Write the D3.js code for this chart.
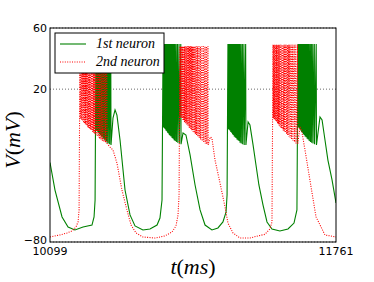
<!DOCTYPE html>
<html>
<head>
<meta charset="utf-8">
<script src="https://cdn.jsdelivr.net/npm/d3@7"></script>
<style>
body { margin: 0; background: #fff; }
</style>
</head>
<body>
<svg id="chart" width="374" height="282"></svg>
<script>
// time window and ticks
var tDomain = [10099, 11761];
var vDomain = [-80, 60];
var xTicks = [10099, 11761];
var yTicks = [-80, 20, 60];
var seriesNames = ['1st neuron', '2nd neuron'];

// 1st neuron: slow parts between bursts, [t, V]
var n1Rest = [
	[[10099, -28], [10128, -46], [10169, -63.6], [10204, -70.2], [10244, -72.1], [10291, -70.2], [10343, -68.9], [10355, -63.6], [10361, -52.5]],
	[[10465, 1], [10477, 6.4], [10488, 3], [10506, -13.3], [10535, -46], [10564, -62.3], [10593, -69.5], [10639, -72.1], [10680, -71.5], [10721, -68.9], [10738, -64.3], [10750, -52.5]],
	[[10872, -8.7], [10889, -10], [10913, -23], [10942, -42.7], [10971, -59], [11000, -68.9], [11040, -72.1], [11075, -70.8], [11104, -66.9], [11122, -60.4], [11128, -49.3]],
	[[11250, -1.5], [11261, -3.5], [11279, -16.5], [11296, -29.6], [11313, -42.7], [11337, -55.8], [11360, -66.9], [11389, -71.5], [11435, -72.8], [11482, -71.5], [11517, -67.6], [11534, -59]],
	[[11668, 1.8], [11680, -0.2], [11697, -13.3], [11714, -26.4], [11738, -39.4], [11761, -54.5]]
];
// 1st neuron bursts: [spike time, trough after spike]
var n1Bursts = [
	[[10366, -7], [10371, -7.5], [10376, -8], [10381, -9], [10386, -9.5], [10391, -10], [10396, -11], [10401, -11.5], [10406, -12], [10411, -13], [10417, -13.5], [10423, -14], [10429, -15], [10436, -15.5], [10444, -16], [10452, -16.5]],
	[[10756, -5], [10761, -5.5], [10766, -6], [10771, -7], [10776, -7.5], [10781, -8.5], [10786, -9], [10791, -10], [10796, -10.5], [10801, -11], [10807, -12], [10813, -12.5], [10819, -13.5], [10825, -14], [10832, -14.5], [10840, -15], [10849, -15.5], [10859, -16]],
	[[11133, -6], [11138, -6.5], [11143, -7], [11148, -8], [11153, -8.5], [11158, -9.5], [11163, -10], [11168, -11], [11173, -11.5], [11178, -12], [11184, -13], [11190, -13.5], [11196, -14], [11202, -15], [11209, -15.5], [11217, -16], [11226, -16.5], [11236, -16.5]],
	[[11540, -5], [11545, -5.5], [11550, -6], [11555, -7], [11560, -8], [11565, -8.5], [11570, -9.5], [11575, -10], [11580, -11], [11586, -11.5], [11592, -12.5], [11598, -13], [11604, -14], [11611, -14.5], [11618, -15], [11626, -15.5], [11635, -16], [11646, -16.5]]
];
var n1Peak = [49, 49.5, 49.5, 49.5];

// 2nd neuron
var n2Rest = [
	[[10099, -76.7], [10157, -75.4], [10198, -74.1], [10227, -72.8], [10250, -70.2], [10262, -66.9], [10268, -59]],
	[[10448, -17.9], [10465, -19.8], [10488, -28.3], [10517, -46], [10546, -59], [10570, -68.9], [10599, -74.1], [10639, -76.7], [10709, -77.4], [10767, -76], [10808, -73.5], [10831, -69.5], [10843, -62.3], [10849, -49.3]],
	[[11030, -11.3], [11040, -12], [11058, -26.4], [11087, -41.4], [11116, -57], [11133, -67.6], [11162, -74], [11203, -77.4], [11261, -77.4], [11308, -76], [11348, -75], [11377, -71.5], [11389, -66.9]],
	[[11552, -4.8], [11563, -8], [11587, -24], [11616, -44], [11645, -63.6], [11697, -75.4], [11761, -76.7]]
];
var n2Bursts = [
	[[10273, 1], [10278, 0.5], [10283, -0.5], [10288, -1], [10293, -2], [10298, -2.5], [10303, -3], [10308, -3.5], [10313, -4], [10318, -5], [10323, -5.5], [10328, -6], [10334, -6.5], [10340, -7], [10346, -8], [10352, -8.5], [10358, -9.5], [10365, -10], [10372, -11], [10379, -11.5], [10386, -12.5], [10394, -13], [10402, -14], [10411, -14.5], [10420, -15], [10429, -15.5]],
	[[10854, 2], [10859, 1.5], [10864, 1], [10869, 0], [10874, -0.5], [10879, -1.5], [10884, -2], [10889, -2.5], [10894, -3.5], [10899, -4], [10904, -5], [10910, -5.5], [10916, -6.5], [10922, -7], [10928, -8], [10935, -8.5], [10942, -9.5], [10949, -10], [10957, -11], [10965, -12], [10973, -13], [10982, -14], [10991, -14.5], [11000, -15.5], [11009, -16], [11017, -16.5]],
	[[11395, 1], [11400, 0.5], [11405, 0], [11410, -1], [11415, -1.5], [11420, -2.5], [11425, -3], [11430, -4], [11435, -4.5], [11441, -5.5], [11447, -6], [11453, -7], [11459, -7.5], [11465, -8.5], [11472, -9.5], [11479, -10], [11486, -11], [11493, -12], [11501, -13], [11509, -14], [11518, -14.5], [11527, -15.5], [11537, -16]]
];
var n2Peak = [48, 48, 49];

var margin = {left: 50, top: 28, right: 38, bottom: 40};
var W = 374, H = 282;
var svg = d3.select('#chart');

var x = d3.scaleLinear().domain(tDomain).range([margin.left, W - margin.right]);
var y = d3.scaleLinear().domain(vDomain).range([H - margin.bottom, margin.top]);

function buildTrace(rest, bursts, peaks) {
	var pts = [];
	rest.forEach(function(seg, i) {
		seg.forEach(function(p) { pts.push(p); });
		if (bursts[i]) {
			bursts[i].forEach(function(s) {
				pts.push([s[0], peaks[i]]);
				pts.push([s[0] + 1.5, s[1]]);
			});
		}
	});
	return pts;
}

var trace1 = buildTrace(n1Rest, n1Bursts, n1Peak);
var trace2 = buildTrace(n2Rest, n2Bursts, n2Peak);

svg.append('defs').append('clipPath').attr('id', 'clip')
	.append('rect')
	.attr('x', margin.left).attr('y', margin.top)
	.attr('width', W - margin.left - margin.right)
	.attr('height', H - margin.top - margin.bottom);

// grid
svg.append('g').selectAll('line').data(yTicks).enter().append('line')
	.attr('x1', margin.left).attr('x2', W - margin.right)
	.attr('y1', function(d) { return y(d); }).attr('y2', function(d) { return y(d); })
	.attr('stroke', '#444').attr('stroke-width', 0.8)
	.attr('stroke-dasharray', '1,2');

var line = d3.line().x(function(d) { return x(d[0]); }).y(function(d) { return y(d[1]); });

var plot = svg.append('g').attr('clip-path', 'url(#clip)');
plot.append('path').attr('d', line(trace1))
	.attr('fill', 'none').attr('stroke', '#008000').attr('stroke-width', 1.1);
plot.append('path').attr('d', line(trace2))
	.attr('fill', 'none').attr('stroke', '#ff0000').attr('stroke-width', 1.1)
	.attr('stroke-dasharray', '1,1.4');

// frame
svg.append('rect')
	.attr('x', margin.left).attr('y', margin.top)
	.attr('width', W - margin.left - margin.right)
	.attr('height', H - margin.top - margin.bottom)
	.attr('fill', 'none').attr('stroke', '#000').attr('stroke-width', 1);

// tick labels
svg.append('g').selectAll('text').data(yTicks).enter().append('text')
	.attr('x', margin.left - 3).attr('y', function(d) { return y(d) + (d == vDomain[0] ? 2 : 4); })
	.attr('text-anchor', 'end')
	.style('font-family', 'DejaVu Sans').style('font-size', '11px')
	.text(function(d) { return d < 0 ? '\u2212' + Math.abs(d) : d; });

svg.append('g').selectAll('text').data(xTicks).enter().append('text')
	.attr('x', function(d) { return x(d); }).attr('y', H - margin.bottom + 13)
	.attr('text-anchor', 'middle')
	.style('font-family', 'DejaVu Sans').style('font-size', '11px')
	.text(function(d) { return d; });

// axis labels
var xl = svg.append('text')
	.attr('x', (margin.left + W - margin.right) / 2).attr('y', 274)
	.attr('text-anchor', 'middle')
	.style('font-family', 'Liberation Serif').style('font-size', '22px');
xl.append('tspan').style('font-style', 'italic').text('t');
xl.append('tspan').text('(');
xl.append('tspan').style('font-style', 'italic').text('ms');
xl.append('tspan').text(')');

var yl = svg.append('text')
	.attr('transform', 'translate(20,140) rotate(-90)')
	.attr('text-anchor', 'middle')
	.style('font-family', 'Liberation Serif').style('font-size', '22px');
yl.append('tspan').style('font-style', 'italic').text('V');
yl.append('tspan').text('(');
yl.append('tspan').style('font-style', 'italic').text('mV');
yl.append('tspan').text(')');

// legend
var lg = svg.append('g').attr('transform', 'translate(55,33)');
lg.append('rect').attr('width', 109).attr('height', 40)
	.attr('fill', '#fff').attr('stroke', '#000').attr('stroke-width', 1);
var items = lg.selectAll('g.item').data(seriesNames).enter().append('g')
	.attr('transform', function(d, i) { return 'translate(0,' + (11 + i * 18) + ')'; });
items.append('line').attr('x1', 5).attr('x2', 31).attr('y1', 0).attr('y2', 0)
	.attr('stroke', function(d, i) { return i == 0 ? '#008000' : '#ff0000'; })
	.attr('stroke-width', 1.1)
	.attr('stroke-dasharray', function(d, i) { return i == 0 ? null : '1,1.4'; });
items.append('text').attr('x', 41).attr('y', 4)
	.style('font-family', 'Liberation Serif').style('font-style', 'italic').style('font-size', '14px')
	.text(function(d) { return d; });
</script>
</body>
</html>
